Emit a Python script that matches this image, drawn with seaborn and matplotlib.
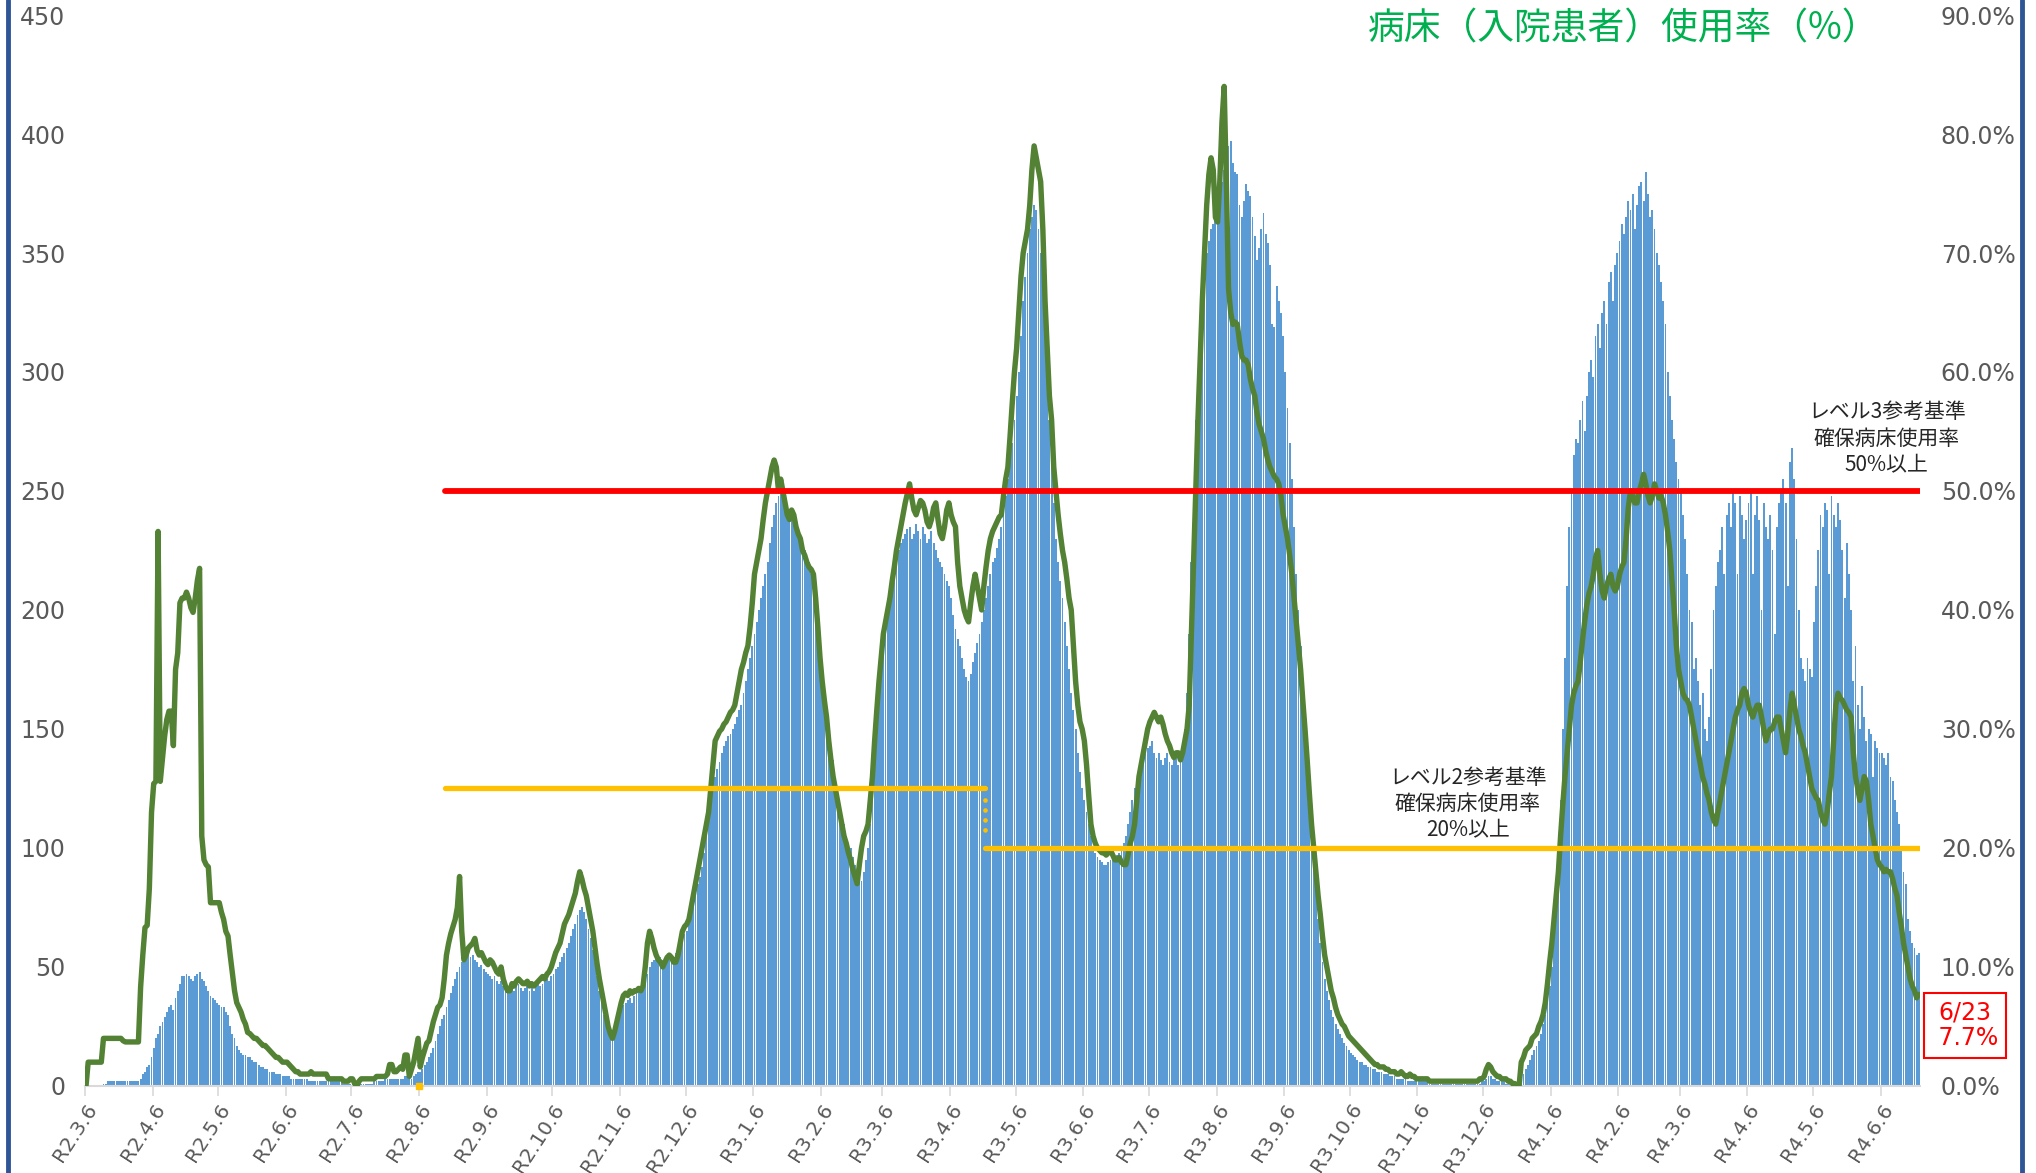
import numpy as np
import pandas as pd
import matplotlib
matplotlib.use("Agg")
import matplotlib.pyplot as plt
from matplotlib.lines import Line2D
import seaborn as sns

# ---- daily inpatients (left axis), one list per month (R2.3.6 - R4.6.23) ----
inpatients_r2_03 = [0, 0, 0, 0, 0, 0, 0, 0, 1, 1, 2, 2, 2, 2, 2, 2, 2, 2, 2, 2, 2, 2, 2, 2, 2, 3, 5, 6, 8, 9, 12]
inpatients_r2_04 = [16, 20, 22, 25, 27, 29, 31, 33, 34, 32, 37, 40, 43, 46, 46, 47, 46, 45, 44, 46, 47, 48, 45, 44, 42, 40, 38, 37, 36, 35]
inpatients_r2_05 = [34, 33, 33, 31, 30, 25, 22, 20, 17, 15, 14, 13, 13, 12, 12, 11, 10, 10, 9, 8, 8, 7, 7, 6, 6, 6, 5, 5, 5, 4, 4]
inpatients_r2_06 = [4, 4, 3, 3, 3, 3, 3, 3, 3, 3, 2, 2, 2, 2, 2, 2, 2, 2, 2, 2, 2, 2, 2, 2, 2, 2, 1, 1, 1, 1]
inpatients_r2_07 = [1, 1, 1, 1, 1, 1, 1, 1, 1, 1, 2, 2, 2, 2, 2, 3, 3, 3, 3, 3, 3, 3, 3, 3, 4, 4, 3, 3, 4, 5, 6]
inpatients_r2_08 = [6, 7, 9, 10, 12, 14, 16, 19, 22, 25, 28, 30, 33, 36, 39, 42, 45, 48, 50, 52, 54, 56, 55, 54, 55, 53, 52, 50, 51, 49, 48]
inpatients_r2_09 = [47, 46, 45, 46, 44, 43, 44, 42, 40, 39, 40, 41, 40, 42, 43, 41, 40, 41, 42, 40, 41, 40, 42, 43, 42, 43, 44, 45, 44, 46]
inpatients_r2_10 = [47, 49, 50, 52, 54, 56, 58, 60, 63, 66, 68, 72, 74, 75, 73, 70, 66, 62, 57, 52, 46, 40, 35, 30, 27, 25, 23, 22, 24, 27, 30]
inpatients_r2_11 = [32, 34, 35, 36, 37, 35, 38, 39, 40, 41, 43, 45, 47, 50, 52, 53, 54, 55, 54, 52, 53, 55, 56, 55, 54, 56, 58, 60, 62, 64]
inpatients_r2_12 = [65, 68, 72, 76, 80, 85, 88, 92, 98, 105, 112, 120, 128, 130, 133, 136, 140, 143, 145, 147, 148, 150, 152, 155, 158, 160, 165, 170, 175, 180, 185]
inpatients_r3_01 = [190, 195, 200, 205, 210, 215, 220, 228, 235, 240, 245, 248, 250, 247, 245, 243, 240, 238, 236, 235, 233, 230, 228, 225, 222, 220, 215, 210, 200, 190, 180]
inpatients_r3_02 = [172, 165, 158, 150, 143, 137, 130, 125, 118, 113, 110, 105, 102, 100, 96, 93, 90, 88, 86, 90, 95, 100, 110, 125, 145, 165, 178, 185]
inpatients_r3_03 = [190, 198, 205, 210, 215, 218, 220, 225, 228, 230, 232, 234, 235, 230, 232, 236, 233, 230, 235, 232, 228, 230, 233, 228, 225, 222, 220, 218, 215, 212, 210]
inpatients_r3_04 = [205, 198, 192, 188, 185, 180, 175, 172, 170, 173, 178, 182, 186, 190, 195, 200, 205, 210, 215, 220, 222, 226, 230, 235, 240, 248, 255, 262, 270, 280]
inpatients_r3_05 = [290, 300, 315, 330, 340, 350, 360, 365, 370, 368, 360, 350, 340, 320, 300, 280, 260, 245, 230, 220, 212, 205, 195, 185, 175, 165, 158, 150, 140, 132, 125]
inpatients_r3_06 = [120, 115, 110, 105, 100, 98, 96, 95, 94, 93, 93, 94, 95, 95, 96, 97, 98, 100, 102, 105, 110, 115, 120, 125, 128, 132, 135, 138, 140, 142]
inpatients_r3_07 = [143, 145, 140, 138, 140, 137, 135, 138, 140, 136, 135, 138, 140, 135, 137, 140, 150, 165, 190, 220, 250, 280, 300, 320, 335, 345, 350, 355, 360, 362, 365]
inpatients_r3_08 = [370, 375, 380, 385, 390, 395, 397, 388, 384, 383, 370, 365, 372, 379, 376, 374, 365, 357, 347, 352, 360, 367, 358, 354, 345, 320, 319, 336, 330, 325, 315]
inpatients_r3_09 = [300, 285, 270, 255, 235, 215, 200, 185, 170, 155, 140, 125, 110, 95, 82, 70, 60, 52, 45, 40, 36, 32, 29, 26, 24, 22, 20, 18, 17, 15]
inpatients_r3_10 = [14, 13, 12, 11, 10, 10, 9, 9, 8, 8, 7, 7, 6, 6, 6, 5, 5, 5, 4, 4, 4, 3, 3, 3, 3, 3, 2, 2, 2, 2, 2]
inpatients_r3_11 = [2, 2, 2, 2, 2, 1, 1, 1, 1, 1, 1, 1, 1, 1, 1, 1, 1, 1, 1, 1, 1, 1, 1, 1, 1, 1, 1, 1, 1, 2]
inpatients_r3_12 = [2, 3, 4, 4, 3, 3, 2, 2, 2, 2, 1, 1, 1, 1, 1, 1, 2, 3, 5, 7, 9, 11, 13, 15, 17, 19, 22, 26, 30, 36, 42]
inpatients_r4_01 = [50, 65, 80, 100, 120, 150, 180, 210, 235, 250, 265, 272, 270, 280, 288, 275, 290, 300, 305, 298, 315, 320, 310, 325, 330, 320, 338, 342, 330, 345, 350]
inpatients_r4_02 = [355, 362, 358, 365, 372, 368, 375, 360, 370, 378, 380, 372, 384, 375, 365, 368, 360, 350, 345, 338, 330, 320, 300, 290, 280, 272, 262, 255]
inpatients_r4_03 = [250, 240, 230, 215, 200, 195, 175, 180, 170, 160, 165, 150, 145, 155, 175, 200, 210, 220, 225, 235, 215, 240, 245, 235, 250, 245, 215, 248, 240, 230, 238]
inpatients_r4_04 = [245, 250, 215, 240, 248, 238, 200, 245, 235, 230, 240, 225, 190, 235, 245, 250, 255, 245, 210, 262, 268, 255, 230, 200, 180, 175, 170, 180, 175, 172]
inpatients_r4_05 = [195, 210, 225, 240, 235, 245, 242, 215, 248, 240, 235, 245, 238, 225, 205, 228, 215, 200, 170, 185, 160, 150, 168, 155, 145, 150, 148, 130, 145, 142, 140]
inpatients_r4_06 = [140, 138, 135, 140, 130, 128, 120, 115, 110, 100, 90, 85, 70, 65, 60, 58, 55, 56]

# ---- daily bed usage rate in % (right axis) ----
usage_r2_03 = [0.0, 2.0, 2.0, 2.0, 2.0, 2.0, 2.0, 2.0, 4.0, 4.0, 4.0, 4.0, 4.0, 4.0, 4.0, 4.0, 4.0, 3.8, 3.7, 3.7, 3.7, 3.7, 3.7, 3.7, 3.7, 8.3, 11.0, 13.3, 13.5, 16.6, 23.0]
usage_r2_04 = [25.4, 25.6, 46.6, 25.6, 27.5, 29.4, 30.8, 31.5, 31.5, 28.6, 35.0, 36.4, 40.6, 41.0, 41.0, 41.5, 41.0, 40.2, 39.8, 41.0, 42.5, 43.5, 21.0, 19.0, 18.6, 18.4, 15.4, 15.4, 15.4, 15.4]
usage_r2_05 = [15.4, 14.6, 14.0, 13.0, 12.6, 11.0, 9.5, 8.0, 7.0, 6.6, 6.2, 5.6, 5.2, 4.5, 4.4, 4.2, 4.0, 4.0, 3.8, 3.6, 3.4, 3.4, 3.2, 3.0, 2.8, 2.6, 2.4, 2.4, 2.2, 2.0, 2.0]
usage_r2_06 = [2.0, 1.8, 1.6, 1.4, 1.2, 1.2, 1.0, 1.0, 1.0, 1.0, 1.0, 1.2, 1.0, 1.0, 1.0, 1.0, 1.0, 1.0, 1.0, 0.6, 0.6, 0.6, 0.6, 0.6, 0.6, 0.6, 0.4, 0.4, 0.4, 0.6]
usage_r2_07 = [0.6, 0.2, 0.0, 0.4, 0.6, 0.6, 0.6, 0.6, 0.6, 0.6, 0.6, 0.8, 0.8, 0.8, 0.8, 0.8, 1.0, 1.8, 1.8, 1.2, 1.2, 1.4, 1.6, 1.4, 2.6, 2.6, 0.8, 1.4, 2.0, 3.0, 4.0]
usage_r2_08 = [1.6, 2.4, 3.0, 3.6, 3.8, 4.6, 5.4, 6.0, 6.6, 6.8, 7.4, 9.0, 11.0, 12.0, 12.8, 13.4, 14.0, 15.0, 17.6, 13.0, 10.6, 11.0, 11.6, 11.8, 12.0, 12.4, 11.4, 11.0, 11.2, 10.8, 10.4]
usage_r2_09 = [10.2, 10.6, 10.4, 10.0, 9.6, 9.4, 10.0, 9.0, 8.4, 8.0, 8.0, 8.6, 8.4, 8.8, 9.0, 8.8, 8.6, 8.6, 8.8, 8.4, 8.6, 8.4, 8.6, 8.8, 9.0, 9.2, 9.0, 9.4, 9.6, 10.0]
usage_r2_10 = [10.6, 11.2, 11.6, 12.0, 12.8, 13.6, 14.0, 14.4, 15.0, 15.6, 16.2, 17.2, 18.0, 17.4, 16.6, 16.0, 15.0, 14.0, 13.0, 11.6, 10.2, 9.0, 8.0, 7.0, 6.0, 5.0, 4.4, 4.0, 4.6, 5.4, 6.2]
usage_r2_11 = [7.0, 7.6, 7.8, 7.6, 8.0, 7.8, 8.0, 8.0, 8.2, 8.0, 8.4, 10.0, 12.0, 13.0, 12.4, 11.6, 11.0, 10.6, 10.4, 10.0, 10.4, 10.8, 11.0, 10.8, 10.4, 10.4, 11.0, 12.0, 13.0, 13.4]
usage_r2_12 = [13.6, 14.0, 15.0, 16.0, 17.0, 18.0, 19.0, 20.0, 21.0, 22.0, 23.0, 25.0, 27.0, 29.0, 29.4, 29.8, 30.0, 30.4, 30.6, 31.0, 31.4, 31.6, 32.0, 33.0, 34.0, 35.0, 35.6, 36.4, 37.0, 38.6, 40.6]
usage_r3_01 = [43.0, 44.0, 45.0, 46.0, 47.6, 49.0, 50.0, 51.0, 52.0, 52.6, 52.0, 50.0, 51.0, 50.0, 49.0, 48.0, 47.6, 48.4, 48.0, 47.0, 46.4, 46.0, 45.0, 44.6, 44.0, 43.6, 43.4, 43.0, 41.0, 38.6, 36.0]
usage_r3_02 = [34.0, 32.4, 31.0, 29.0, 27.4, 26.0, 25.0, 24.0, 23.0, 22.0, 21.0, 20.4, 19.6, 19.0, 18.2, 17.6, 17.0, 18.6, 20.0, 21.0, 21.4, 22.0, 24.0, 26.0, 29.0, 31.6, 34.0, 36.0]
usage_r3_03 = [38.0, 39.0, 40.0, 41.0, 42.4, 43.6, 45.0, 46.0, 47.0, 48.0, 49.0, 49.8, 50.6, 49.4, 48.4, 48.0, 48.6, 49.2, 49.0, 48.4, 47.4, 47.0, 47.6, 48.6, 49.0, 47.6, 46.4, 46.0, 47.0, 48.4, 49.0]
usage_r3_04 = [48.0, 47.4, 47.0, 44.0, 42.0, 41.0, 40.0, 39.4, 39.0, 40.6, 42.0, 43.0, 42.0, 41.0, 40.0, 42.0, 43.6, 45.0, 46.0, 46.6, 47.0, 47.4, 47.8, 48.0, 49.6, 51.0, 52.0, 54.6, 57.4, 60.0]
usage_r3_05 = [62.0, 65.0, 68.0, 70.0, 71.0, 72.0, 74.0, 77.0, 79.0, 78.0, 77.0, 76.0, 72.0, 66.0, 62.0, 58.0, 56.0, 52.0, 50.0, 48.0, 46.4, 45.0, 44.0, 42.6, 41.0, 40.0, 37.0, 34.0, 32.0, 30.6, 30.0]
usage_r3_06 = [29.0, 27.0, 24.4, 22.0, 21.0, 20.4, 20.0, 19.8, 19.6, 19.6, 19.4, 19.6, 19.8, 19.4, 19.0, 19.0, 19.2, 18.8, 18.6, 18.6, 19.4, 20.4, 21.0, 22.0, 24.0, 26.0, 27.0, 28.0, 29.0, 30.0]
usage_r3_07 = [30.6, 31.0, 31.4, 31.0, 30.6, 31.0, 30.4, 29.6, 29.0, 28.6, 28.0, 27.6, 28.0, 28.0, 27.4, 28.0, 29.0, 30.0, 32.0, 38.0, 44.0, 50.0, 56.0, 61.0, 66.0, 70.0, 74.0, 76.6, 78.0, 77.0, 73.0]
usage_r3_08 = [72.6, 76.0, 81.0, 84.0, 76.0, 67.0, 65.0, 64.0, 64.2, 64.0, 62.6, 61.4, 61.0, 61.0, 60.6, 59.4, 58.6, 58.0, 56.6, 55.6, 55.0, 54.4, 53.4, 52.6, 52.0, 51.6, 51.2, 51.0, 50.6, 49.6, 48.0]
usage_r3_09 = [47.0, 46.0, 44.6, 43.0, 41.0, 39.0, 37.0, 35.0, 32.4, 30.0, 27.4, 24.6, 22.0, 20.0, 18.0, 16.0, 14.4, 12.6, 11.0, 10.0, 9.0, 8.0, 7.4, 6.6, 6.0, 5.6, 5.2, 5.0, 4.6, 4.2]
usage_r3_10 = [4.0, 3.8, 3.6, 3.4, 3.2, 3.0, 2.8, 2.6, 2.4, 2.2, 2.0, 1.8, 1.8, 1.6, 1.6, 1.6, 1.4, 1.4, 1.2, 1.2, 1.2, 1.0, 1.0, 1.2, 1.0, 0.8, 0.8, 1.0, 0.8, 0.8, 0.6]
usage_r3_11 = [0.6, 0.6, 0.6, 0.6, 0.6, 0.4, 0.4, 0.4, 0.4, 0.4, 0.4, 0.4, 0.4, 0.4, 0.4, 0.4, 0.4, 0.4, 0.4, 0.4, 0.4, 0.4, 0.4, 0.4, 0.4, 0.4, 0.4, 0.4, 0.6, 0.6]
usage_r3_12 = [0.8, 1.4, 1.8, 1.6, 1.2, 1.0, 0.8, 0.8, 0.6, 0.6, 0.6, 0.4, 0.4, 0.2, 0.2, 0.0, 0.0, 2.0, 2.4, 3.0, 3.2, 3.4, 4.0, 4.2, 4.4, 5.0, 5.4, 6.0, 7.0, 8.6, 10.4]
usage_r4_01 = [12.0, 14.0, 16.0, 18.0, 21.0, 23.6, 26.0, 28.0, 30.0, 32.0, 33.0, 33.6, 34.0, 35.6, 37.4, 39.0, 40.4, 41.4, 42.0, 43.0, 44.4, 45.0, 43.0, 41.6, 41.0, 42.0, 42.6, 43.0, 42.0, 41.6, 42.0]
usage_r4_02 = [43.0, 43.6, 44.0, 46.0, 48.6, 50.0, 49.6, 49.0, 49.0, 50.0, 50.6, 51.4, 50.6, 49.6, 49.0, 49.6, 50.6, 50.0, 49.4, 49.6, 49.0, 48.0, 46.6, 45.0, 42.4, 40.0, 37.0, 35.0]
usage_r4_03 = [34.0, 33.0, 32.6, 32.4, 32.0, 31.0, 30.0, 29.0, 28.0, 27.0, 26.0, 25.4, 24.6, 24.0, 23.0, 22.4, 22.0, 23.0, 24.0, 25.0, 26.0, 27.0, 28.0, 29.0, 30.0, 31.0, 31.6, 32.0, 33.0, 33.4, 33.0]
usage_r4_04 = [32.0, 31.4, 31.0, 31.6, 32.0, 32.0, 31.0, 30.0, 29.0, 29.6, 30.0, 30.0, 30.6, 31.0, 31.0, 30.0, 29.0, 28.0, 29.6, 31.6, 33.0, 32.0, 31.0, 30.0, 29.4, 28.6, 28.0, 27.0, 26.0, 25.0]
usage_r4_05 = [24.6, 24.2, 24.0, 23.0, 22.4, 22.0, 23.0, 24.6, 26.0, 29.0, 32.0, 33.0, 32.6, 32.4, 32.0, 31.6, 31.4, 31.0, 28.0, 26.0, 25.0, 24.0, 25.0, 26.0, 25.6, 24.0, 22.0, 21.0, 20.0, 19.0, 18.6]
usage_r4_06 = [18.4, 18.0, 18.2, 18.0, 18.0, 17.4, 16.6, 16.0, 14.6, 13.4, 12.0, 11.0, 10.0, 9.0, 8.4, 8.0, 7.4, 7.7]

start_date = "2020-03-06"
end_date = "2022-06-23"
level_start = "2020-08-18"      # 参考基準線の表示開始
level2_change = "2021-04-22"    # レベル2基準 25% -> 20%
level3_pct = 50
level2_old_pct = 25
level2_new_pct = 20

title_text = "病床（入院患者）使用率（%）"
level3_text = "レベル3参考基準\n確保病床使用率\n50%以上"
level2_text = "レベル2参考基準\n確保病床使用率\n20%以上"
latest_text = "6/23\n 7.7%"

BAR_C = "#5B9BD5"
LINE_C = "#548235"
GRAY = "#595959"
JP = ["Noto Sans CJK JP", "DejaVu Sans"]

# ---- assemble ----
dates = pd.date_range(start_date, end_date, freq="D")
inpatients = sum([inpatients_r2_03, inpatients_r2_04, inpatients_r2_05, inpatients_r2_06,
                  inpatients_r2_07, inpatients_r2_08, inpatients_r2_09, inpatients_r2_10,
                  inpatients_r2_11, inpatients_r2_12, inpatients_r3_01, inpatients_r3_02,
                  inpatients_r3_03, inpatients_r3_04, inpatients_r3_05, inpatients_r3_06,
                  inpatients_r3_07, inpatients_r3_08, inpatients_r3_09, inpatients_r3_10,
                  inpatients_r3_11, inpatients_r3_12, inpatients_r4_01, inpatients_r4_02,
                  inpatients_r4_03, inpatients_r4_04, inpatients_r4_05, inpatients_r4_06], [])
usage = sum([usage_r2_03, usage_r2_04, usage_r2_05, usage_r2_06, usage_r2_07, usage_r2_08,
             usage_r2_09, usage_r2_10, usage_r2_11, usage_r2_12, usage_r3_01, usage_r3_02,
             usage_r3_03, usage_r3_04, usage_r3_05, usage_r3_06, usage_r3_07, usage_r3_08,
             usage_r3_09, usage_r3_10, usage_r3_11, usage_r3_12, usage_r4_01, usage_r4_02,
             usage_r4_03, usage_r4_04, usage_r4_05, usage_r4_06], [])
n = min(len(dates), len(inpatients), len(usage))
df = pd.DataFrame({"day": np.arange(n), "inpatients": inpatients[:n], "usage": usage[:n]})

tick_dates = [d for d in dates if d.day == 6]
tick_pos = [dates.get_loc(d) - 0.5 for d in tick_dates]
tick_labels = [f"R{d.year - 2018}.{d.month}.6" for d in tick_dates]

sns.set_theme(style="white")
plt.rcParams["font.family"] = ["DejaVu Sans", "Noto Sans CJK JP"]

fig = plt.figure(figsize=(20.36, 11.73), dpi=100)
ax = fig.add_axes([0.0417, 0.0742, 0.9013, 0.9130])

sns.barplot(data=df, x="day", y="inpatients", native_scale=True, color=BAR_C,
            saturation=1, width=0.85, linewidth=0, errorbar=None, ax=ax)
ax.set_xlim(-0.5, len(dates) - 0.5)
ax.set_ylim(0, 450)
ax.set_yticks(range(0, 451, 50))
ax.set_xticks(tick_pos)
ax.set_xticklabels(tick_labels, rotation=57, ha="right", rotation_mode="anchor",
                   fontsize=14.5, color=GRAY)
ax.tick_params(axis="y", length=0, pad=14, labelsize=17, labelcolor=GRAY)
ax.tick_params(axis="x", length=7, width=1.2, color="#D9D9D9", pad=3, bottom=True)
for s in ["top", "left", "right"]:
    ax.spines[s].set_visible(False)
ax.spines["bottom"].set_color("#D9D9D9")
ax.spines["bottom"].set_linewidth(1.5)
ax.set_xlabel("")
ax.set_ylabel("")

# usage rate on the right axis
ax2 = ax.twinx()
sns.lineplot(data=df, x="day", y="usage", color=LINE_C, linewidth=3.9, ax=ax2)
ax2.set_xlim(-0.5, len(dates) - 0.5)
ax2.set_ylim(0, 90)
ax2.set_yticks(range(0, 91, 10))
ax2.set_yticklabels([f"{v:.1f}%" for v in range(0, 91, 10)])
ax2.tick_params(axis="y", length=0, pad=15, labelsize=17, labelcolor=GRAY)
for s in ax2.spines.values():
    s.set_visible(False)
ax2.set_xlabel("")
ax2.set_ylabel("")

# reference levels
x0 = dates.get_loc(pd.Timestamp(level_start)) - 0.5
x1 = dates.get_loc(pd.Timestamp(level2_change)) - 0.5
xe = len(dates) - 0.5
ax2.plot([x0, x1], [level2_old_pct] * 2, color="#FFC000", lw=3.8, solid_capstyle="round")
ax2.plot([x1, x1], [level2_old_pct - 1, level2_new_pct + 1], color="#FFC000", lw=3.4,
         ls=(0, (0.01, 2.1)), dash_capstyle="round")
ax2.plot([x1, xe], [level2_new_pct] * 2, color="#FFC000", lw=3.8, solid_capstyle="round")
ax2.plot([x0, xe], [level3_pct] * 2, color="#FF0000", lw=4.2, solid_capstyle="round")
aug6 = tick_pos[tick_labels.index("R2.8.6")]
ax2.plot([aug6], [0], marker="s", ms=4, color="#FFC000", clip_on=False)

ax.text(824.3, 272, level3_text, ha="center", va="center", fontsize=15,
        linespacing=1.25, color="#262626", family=JP)
ax.text(632.6, 118.5, level2_text, ha="center", va="center", fontsize=15,
        linespacing=1.25, color="#262626", family=JP)

fig.text(0.7975, 0.975, title_text, ha="center", va="center", fontsize=26.5,
         color="#00B050", family=JP)
fig.text(0.965, 0.126, latest_text, ha="center", va="center", fontsize=17,
         color="#FF0000", linespacing=1.1,
         bbox=dict(boxstyle="square,pad=0.32", fc="white", ec="#FF0000", lw=1.5))

# slide frame edges
for xf in [8 / 2036, 2022 / 2036]:
    fig.add_artist(Line2D([xf, xf], [0, 1], color="#2F5597", lw=3.5,
                          transform=fig.transFigure))

fig.savefig("out.png", dpi=100)
